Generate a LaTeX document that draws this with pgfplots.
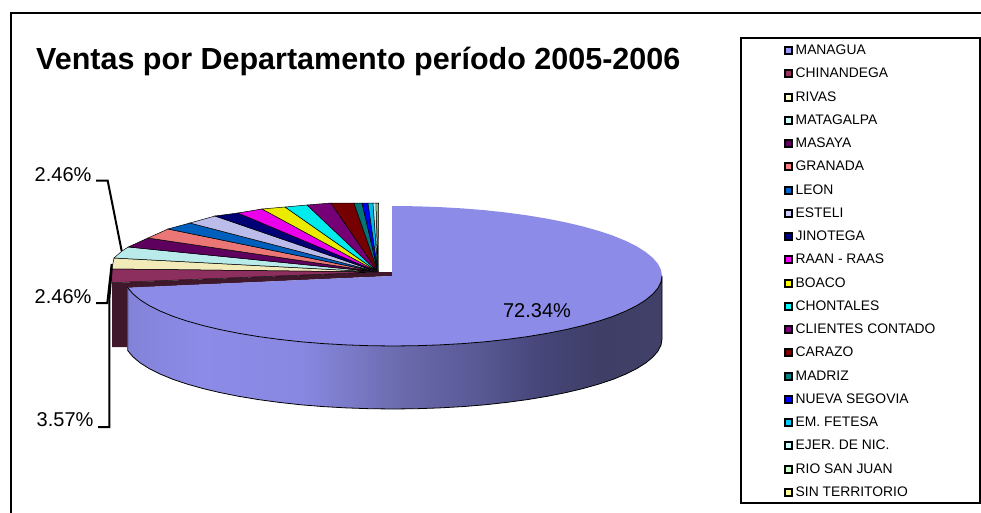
\documentclass[border=0pt]{standalone}
\usepackage{pgfplots}
\pgfplotsset{compat=1.18}
\usepackage{fontspec}
\setmainfont{Liberation Sans}
\definecolor{sA}{HTML}{8282D8}
\definecolor{sB}{HTML}{8C8CE8}
\definecolor{sC}{HTML}{8888E2}
\definecolor{sD}{HTML}{7A7AC8}
\definecolor{sE}{HTML}{6A6AAE}
\definecolor{sF}{HTML}{585894}
\definecolor{sG}{HTML}{46467A}
\definecolor{sH}{HTML}{3E3E66}
\definecolor{sI}{HTML}{404068}
\pgfdeclarehorizontalshading{sideshade}{100bp}{color(0bp)=(sA); color(25bp)=(sA); color(31.8bp)=(sB); color(41.2bp)=(sC); color(45.8bp)=(sD); color(50.5bp)=(sE); color(58bp)=(sF); color(63.5bp)=(sG); color(69.2bp)=(sH); color(75bp)=(sI); color(100bp)=(sI)}
\pgfplotsset{slice/.style={draw=black, line width=0.5pt, forget plot},
  rule/.style={draw=black, line width=2pt, forget plot}}
\begin{document}
\begin{tikzpicture}
\useasboundingbox (0,0) rectangle (981pt,513pt);
\begin{axis}[
  at={(0,0)}, anchor=south west,
  scale only axis, width=981pt, height=513pt,
  xmin=0, xmax=981, ymin=0, ymax=513, y dir=reverse,
  axis lines=none, clip=true,
  legend image code/.code={\draw[#1, draw=black, line width=2.2pt] (0pt,-3.5pt) rectangle (7pt,3.5pt);},
  legend cell align=left,
  legend style={at={(axis cs:783.6,38.8)}, anchor=north west, draw=none, fill=none,
    inner sep=0pt, row sep=0pt, column sep=1.7pt,
    nodes={inner xsep=1pt, inner ysep=0pt, minimum height=23.25pt,
      font=\fontsize{13.85}{13.85}\selectfont}},
]
% legend
\addlegendimage{fill={rgb,255:red,153;green,153;blue,255}}\addlegendentry{MANAGUA}
\addlegendimage{fill={rgb,255:red,153;green,51;blue,102}}\addlegendentry{CHINANDEGA}
\addlegendimage{fill={rgb,255:red,255;green,255;blue,204}}\addlegendentry{RIVAS}
\addlegendimage{fill={rgb,255:red,204;green,255;blue,255}}\addlegendentry{MATAGALPA}
\addlegendimage{fill={rgb,255:red,102;green,0;blue,102}}\addlegendentry{MASAYA}
\addlegendimage{fill={rgb,255:red,255;green,128;blue,128}}\addlegendentry{GRANADA}
\addlegendimage{fill={rgb,255:red,0;green,102;blue,204}}\addlegendentry{LEON}
\addlegendimage{fill={rgb,255:red,204;green,204;blue,255}}\addlegendentry{ESTELI}
\addlegendimage{fill={rgb,255:red,0;green,0;blue,128}}\addlegendentry{JINOTEGA}
\addlegendimage{fill={rgb,255:red,255;green,0;blue,255}}\addlegendentry{RAAN - RAAS}
\addlegendimage{fill={rgb,255:red,255;green,255;blue,0}}\addlegendentry{BOACO}
\addlegendimage{fill={rgb,255:red,0;green,255;blue,255}}\addlegendentry{CHONTALES}
\addlegendimage{fill={rgb,255:red,128;green,0;blue,128}}\addlegendentry{CLIENTES CONTADO}
\addlegendimage{fill={rgb,255:red,128;green,0;blue,0}}\addlegendentry{CARAZO}
\addlegendimage{fill={rgb,255:red,0;green,128;blue,128}}\addlegendentry{MADRIZ}
\addlegendimage{fill={rgb,255:red,0;green,0;blue,255}}\addlegendentry{NUEVA SEGOVIA}
\addlegendimage{fill={rgb,255:red,0;green,204;blue,255}}\addlegendentry{EM. FETESA}
\addlegendimage{fill={rgb,255:red,204;green,255;blue,255}}\addlegendentry{EJER. DE NIC.}
\addlegendimage{fill={rgb,255:red,204;green,255;blue,204}}\addlegendentry{RIO SAN JUAN}
\addlegendimage{fill={rgb,255:red,255;green,255;blue,153}}\addlegendentry{SIN TERRITORIO}
% frame and legend box
\addplot[draw=black, line width=2pt, forget plot] coordinates {(981,12.7) (10.7,12.7) (10.7,513)};
\addplot[draw=black, line width=1.6pt, forget plot] coordinates {(741,38) (980,38) (980,502.7) (741,502.7)} -- cycle;
% back slices
\addplot[slice, fill={rgb,255:red,241;green,235;blue,186}] coordinates {(378,272) (112,269) (113,263) (114,258)} -- cycle;
\addplot[slice, fill={rgb,255:red,186;green,235;blue,235}] coordinates {(378,272) (114,258) (122,251) (128.3,247)} -- cycle;
\addplot[slice, fill={rgb,255:red,94;green,0;blue,94}] coordinates {(378,272) (128.3,247) (148,238)} -- cycle;
\addplot[slice, fill={rgb,255:red,235;green,118;blue,118}] coordinates {(378,272) (148,238) (168,229)} -- cycle;
\addplot[slice, fill={rgb,255:red,0;green,94;blue,188}] coordinates {(378,272) (168,229) (190,223)} -- cycle;
\addplot[slice, fill={rgb,255:red,188;green,188;blue,235}] coordinates {(378,272) (190,223) (215,216)} -- cycle;
\addplot[slice, fill={rgb,255:red,0;green,0;blue,118}] coordinates {(378,272) (215,216) (238,213)} -- cycle;
\addplot[slice, fill={rgb,255:red,235;green,0;blue,235}] coordinates {(378,272) (238,213) (262,209)} -- cycle;
\addplot[slice, fill={rgb,255:red,235;green,235;blue,0}] coordinates {(378,272) (262,209) (285,207)} -- cycle;
\addplot[slice, fill={rgb,255:red,0;green,235;blue,235}] coordinates {(378,272) (285,207) (307,205)} -- cycle;
\addplot[slice, fill={rgb,255:red,118;green,0;blue,118}] coordinates {(378,272) (307,205) (331,203)} -- cycle;
\addplot[slice, fill={rgb,255:red,118;green,0;blue,0}] coordinates {(378,272) (331,203) (354,203)} -- cycle;
\addplot[slice, fill={rgb,255:red,0;green,118;blue,118}] coordinates {(378,272) (354,203) (362,203)} -- cycle;
\addplot[slice, fill={rgb,255:red,0;green,0;blue,235}] coordinates {(378,272) (362,203) (368,203)} -- cycle;
\addplot[slice, fill={rgb,255:red,0;green,188;blue,235}] coordinates {(378,272) (368,203) (373,203)} -- cycle;
\addplot[slice, fill={rgb,255:red,188;green,235;blue,235}] coordinates {(378,272) (373,203) (376,203)} -- cycle;
\addplot[slice, fill={rgb,255:red,188;green,235;blue,188}] coordinates {(378,272) (376,203) (378,203)} -- cycle;
\addplot[slice, fill={rgb,255:red,235;green,235;blue,141}] coordinates {(378,272) (378,203) (378.5,203)} -- cycle;
% Chinandega: top face and its cut wall
\addplot[fill={rgb,255:red,64;green,24;blue,44}, draw=none, forget plot] coordinates {(112,283) (378,272) (392,272) (392,276) (127,288) (127,347) (112,347)} -- cycle;
\addplot[slice, fill={rgb,255:red,141;green,47;blue,94}] coordinates {(378,272) (112,282.7) (111.5,275) (112,269)} -- cycle;
% Managua: top face
\addplot[fill={rgb,255:red,140;green,140;blue,232}, draw=none, forget plot] coordinates {
 (392,276) (392,206) (416.5,206.3) (439.7,207.1) (462.6,208.4) (485,210.2) (506.7,212.6) (527.5,215.4) (547.3,218.7) (565.9,222.4) (583.2,226.5) (599.1,231) (613.4,235.8) (626,241) (636.8,246.4) (645.8,252.1) (652.8,257.9) (657.9,263.8) (661,269.9) (662,276)
 (661,282.1) (657.9,288.2) (652.8,294.1) (645.8,299.9) (636.8,305.6) (626,311) (613.4,316.2) (599.1,321) (583.2,325.5) (565.9,329.6) (547.3,333.3) (527.5,336.6) (506.7,339.4) (485,341.8) (462.6,343.6) (439.7,344.9) (416.5,345.7) (393,346)
 (369.5,345.7) (346.3,344.9) (323.4,343.6) (301,341.8) (279.3,339.4) (258.5,336.6) (238.7,333.3) (220.1,329.6) (202.8,325.5) (186.9,321) (172.6,316.2) (160,311) (149.2,305.6) (140.2,299.9) (133.2,294.1) (127.8,287.7)} -- cycle;
% Managua: side wall
\addplot[shading=sideshade, draw=black, line width=0.8pt, forget plot] coordinates {
 (662,276) (661,282.1) (657.9,288.2) (652.8,294.1) (645.8,299.9) (636.8,305.6) (626,311) (613.4,316.2) (599.1,321) (583.2,325.5) (565.9,329.6) (547.3,333.3) (527.5,336.6) (506.7,339.4) (485,341.8) (462.6,343.6) (439.7,344.9) (416.5,345.7) (393,346)
 (369.5,345.7) (346.3,344.9) (323.4,343.6) (301,341.8) (279.3,339.4) (258.5,336.6) (238.7,333.3) (220.1,329.6) (202.8,325.5) (186.9,321) (172.6,316.2) (160,311) (149.2,305.6) (140.2,299.9) (133.2,294.1) (127.8,287.7)
 (127.8,350.7) (133.2,357.1) (140.2,362.9) (149.2,368.6) (160,374) (172.6,379.2) (186.9,384) (202.8,388.5) (220.1,392.6) (238.7,396.3) (258.5,399.6) (279.3,402.4) (301,404.8) (323.4,406.6) (346.3,407.9) (369.5,408.7) (393,409)
 (416.5,408.7) (439.7,407.9) (462.6,406.6) (485,404.8) (506.7,402.4) (527.5,399.6) (547.3,396.3) (565.9,392.6) (583.2,388.5) (599.1,384) (613.4,379.2) (626,374) (636.8,368.6) (645.8,362.9) (652.8,357.1) (657.9,351.2) (661,345.1) (662,339)} -- cycle;
% leader lines
\addplot[rule] coordinates {(96,180.7) (107.7,180.7) (121.7,251)};
\addplot[rule] coordinates {(96,303) (107.3,303) (111.7,264)};
\addplot[rule] coordinates {(98,427) (109.3,427) (109.3,300) (111.7,268)};
% text
\node[anchor=west, inner sep=0pt, font=\bfseries\fontsize{30.5}{30.5}\selectfont] at (axis cs:36,61) {Ventas por Departamento período 2005-2006};
\node[inner sep=0pt, font=\fontsize{20}{20}\selectfont] at (axis cs:537,310.5) {72.34\%};
\node[anchor=west, inner sep=0pt, font=\fontsize{20}{20}\selectfont] at (axis cs:34.5,174.5) {2.46\%};
\node[anchor=west, inner sep=0pt, font=\fontsize{20}{20}\selectfont] at (axis cs:34.5,296.7) {2.46\%};
\node[anchor=west, inner sep=0pt, font=\fontsize{20}{20}\selectfont] at (axis cs:36.5,420) {3.57\%};
\end{axis}
\end{tikzpicture}
\end{document}
